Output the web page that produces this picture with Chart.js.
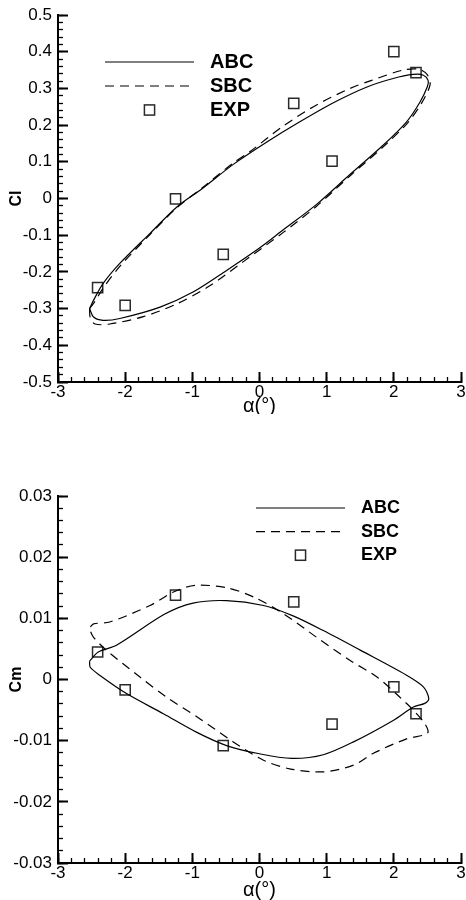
<!DOCTYPE html>
<html>
<head>
<meta charset="utf-8">
<script src="https://cdn.jsdelivr.net/npm/chart.js@4.4.1/dist/chart.umd.min.js"></script>
<style>
    body { margin: 0; background: #fff; }
    #lienzos { position: relative; width: 466px; height: 900px; }
    #lienzos canvas { position: absolute; left: 0; }
    #graficaCl { top: 0; }
    #graficaCm { top: 450px; }
</style>
</head>
<body>
<div id="lienzos">
    <canvas id="graficaCl" width="466" height="414"></canvas>
    <canvas id="graficaCm" width="466" height="450"></canvas>
</div>
<script>
// Rangos y pasos de los ejes
const rangoAlfa = [-3, 3];
const pasosAlfa = [1, 0.2];          // principal, menor
const rangoCl = [-0.5, 0.5];
const pasosCl = [0.1, 0.02];
const rangoCm = [-0.03, 0.03];
const pasosCm = [0.01, 0.002];

// Ciclo de Cl (ABC, linea continua)
const alfaAbcCl = [-2.53, -2.47, -2.33, -2.08, -1.63, -1.23, -0.86, -0.39, 0.11, 0.60,
                   1.10, 1.60, 1.99, 2.29, 2.44, 2.51, 2.50, 2.39, 2.19, 1.84,
                   1.35, 0.85, 0.35, 0.00, -0.49, -0.99, -1.48, -2.08, -2.33, -2.47, -2.53];
const clAbc = [-0.300, -0.277, -0.232, -0.177, -0.095, -0.023, 0.026, 0.093, 0.154, 0.209,
               0.261, 0.304, 0.327, 0.338, 0.336, 0.322, 0.305, 0.263, 0.209, 0.145,
               0.066, -0.016, -0.086, -0.135, -0.196, -0.255, -0.296, -0.327, -0.332, -0.323, -0.300];

// Ciclo de Cl (SBC, discontinua)
const alfaSbcCl = [-2.53, -2.46, -2.33, -2.08, -1.63, -1.23, -0.86, -0.39, -0.14, 0.35,
                   0.85, 1.35, 1.67, 2.14, 2.38, 2.50, 2.54, 2.42, 2.21, 1.85,
                   1.35, 0.85, 0.35, -0.24, -0.74, -1.23, -1.73, -2.23, -2.45, -2.52, -2.53];
const clSbc = [-0.300, -0.283, -0.245, -0.185, -0.098, -0.025, 0.028, 0.097, 0.128, 0.197,
               0.255, 0.300, 0.322, 0.350, 0.352, 0.337, 0.310, 0.262, 0.207, 0.142,
               0.062, -0.021, -0.093, -0.172, -0.238, -0.287, -0.322, -0.342, -0.342, -0.325, -0.300];

// Ciclo de Cm (ABC)
const alfaAbcCm = [-2.53, -2.40, -2.13, -1.41, -0.99, -0.49, 0.06, 0.50, 0.95, 1.50,
                   2.19, 2.44, 2.52, 2.46, 2.29, 1.99, 1.40, 0.95, 0.48, -0.02,
                   -0.49, -0.94, -1.43, -1.98, -2.38, -2.52, -2.53];
const cmAbc = [0.0030, 0.0045, 0.0056, 0.0107, 0.0125, 0.0129, 0.0121, 0.0104, 0.0080, 0.0048,
               0.0007, -0.0012, -0.0031, -0.0039, -0.0045, -0.0067, -0.0102, -0.0123, -0.0129, -0.0121,
               -0.0108, -0.0086, -0.0056, -0.0023, 0.0007, 0.0020, 0.0030];

// Ciclo de Cm (SBC)
const alfaSbcCm = [-2.52, -2.47, -2.23, -1.63, -1.28, -0.96, -0.49, -0.09, 0.35, 0.85,
                   1.35, 1.75, 2.09, 2.29, 2.46, 2.51, 2.44, 2.19, 1.69, 1.40,
                   0.95, 0.45, 0.06, -0.39, -0.89, -1.38, -1.78, -2.28, -2.47, -2.52, -2.52];
const cmSbc = [0.0086, 0.0091, 0.0094, 0.0121, 0.0143, 0.0154, 0.0150, 0.0135, 0.0108, 0.0069,
               0.0031, 0.0004, -0.0029, -0.0050, -0.0072, -0.0086, -0.0091, -0.0097, -0.0121, -0.0140,
               -0.0151, -0.0146, -0.0132, -0.0102, -0.0064, -0.0029, 0.0004, 0.0048, 0.0069, 0.0080, 0.0086];

// Puntos experimentales
const alfaExp = [-2.41, -2.00, -1.25, -0.54, 0.51, 1.08, 2.00, 2.33];
const clExp = [-0.243, -0.291, -0.001, -0.152, 0.259, 0.102, 0.400, 0.343];
const cmExp = [0.0045, -0.0017, 0.0138, -0.0108, 0.0127, -0.0073, -0.0012, -0.0056];

const FUENTE = "'Liberation Sans', Arial, Helvetica, sans-serif";
Chart.defaults.font.family = FUENTE;
Chart.defaults.color = '#000';

const aPuntos = (xs, ys) => xs.map((x, i) => ({ x: x, y: ys[i] }));

// Leyenda dibujada dentro del area de la grafica (linea + texto en negrita)
const leyendaInterna = {
    id: 'leyendaInterna',
    afterDatasetsDraw(chart, args, opts) {
        const { ctx, chartArea } = chart;
        const x0 = chartArea.left + opts.x0;
        const x1 = chartArea.left + opts.x1;
        ctx.save();
        ctx.font = `bold ${opts.tamano}px ${FUENTE}`;
        ctx.textBaseline = 'middle';
        ctx.textAlign = 'left';
        chart.data.datasets.forEach((ds, i) => {
            const y = chartArea.top + opts.y + i * opts.paso;
            ctx.strokeStyle = ds.borderColor;
            ctx.lineWidth = ds.borderWidth;
            if (ds.showLine) {
                ctx.setLineDash(ds.borderDash || []);
                ctx.beginPath();
                ctx.moveTo(x0, y);
                ctx.lineTo(x1, y);
                ctx.stroke();
            } else {
                const lado = ds.pointRadius * Math.SQRT2;
                ctx.setLineDash([]);
                ctx.strokeRect((x0 + x1) / 2 - lado / 2, y - lado / 2, lado, lado);
            }
            ctx.fillStyle = '#000';
            ctx.fillText(ds.label, chartArea.left + opts.xTexto, y);
        });
        ctx.restore();
    }
};

function seriesCiclo(alfaA, valA, alfaS, valS, valExp) {
    return [
        {
            label: 'ABC', data: aPuntos(alfaA, valA), showLine: true,
            borderColor: '#000', borderWidth: 1.2, pointRadius: 0, tension: 0.3, fill: false
        },
        {
            label: 'SBC', data: aPuntos(alfaS, valS), showLine: true,
            borderColor: '#000', borderWidth: 1.2, borderDash: [9, 6], pointRadius: 0, tension: 0.3, fill: false
        },
        {
            label: 'EXP', data: aPuntos(alfaExp, valExp), showLine: false,
            pointStyle: 'rect', pointRadius: 7.2, borderColor: '#2a2a2a', borderWidth: 1.5,
            pointBorderColor: '#2a2a2a', pointBorderWidth: 1.5, pointBackgroundColor: 'rgba(0,0,0,0)'
        }
    ];
}

// Ejes estilo Tecplot: marcas hacia dentro, principales y menores
function configEjes(rangoY, pasosY, tituloY, altoEjeX, ajusteTituloX) {
    const anchoFijo = (w) => (s) => { s.width = w; s.paddingTop = 0; s.paddingBottom = 0; };
    const altoFijo = (h) => (s) => { s.height = h; s.paddingLeft = 0; s.paddingRight = 0; };
    const marcas = (largo, grosor) => ({
        drawOnChartArea: false, tickLength: -largo, tickWidth: grosor, tickColor: '#000'
    });
    return {
        x: {
            type: 'linear', position: 'bottom', weight: 1,
            min: rangoAlfa[0], max: rangoAlfa[1],
            ticks: { stepSize: pasosAlfa[0], autoSkip: false, maxRotation: 0, padding: 10, font: { size: 17 } },
            grid: marcas(10, 2),
            border: { color: '#000', width: 2 },
            title: {
                display: true, text: 'α(°)',
                font: { size: 20, lineHeight: 1 },
                padding: { top: 0, bottom: ajusteTituloX }
            },
            afterFit: altoFijo(altoEjeX)
        },
        xMenor: {
            type: 'linear', position: 'bottom', weight: 0,
            min: rangoAlfa[0], max: rangoAlfa[1],
            ticks: { stepSize: pasosAlfa[1], display: false },
            grid: marcas(5, 1.3),
            border: { display: false },
            afterFit: altoFijo(0)
        },
        y: {
            type: 'linear', position: 'left', weight: 1,
            min: rangoY[0], max: rangoY[1],
            ticks: { stepSize: pasosY[0], autoSkip: false, padding: 16, font: { size: 17 } },
            grid: marcas(10, 2),
            border: { color: '#000', width: 2 },
            title: {
                display: true, text: tituloY,
                font: { size: 16, weight: 'bold', lineHeight: 1 },
                padding: { top: 9, bottom: 0 }
            },
            afterFit: anchoFijo(58)
        },
        yMenor: {
            type: 'linear', position: 'left', weight: 0,
            min: rangoY[0], max: rangoY[1],
            ticks: { stepSize: pasosY[1], display: false },
            grid: marcas(5, 1.3),
            border: { display: false },
            afterFit: anchoFijo(0)
        }
    };
}

function opcionesBase(escalas, relleno, leyenda) {
    return {
        responsive: false,
        animation: false,
        // sin relleno automatico por el tamano de los marcadores
        layout: { padding: relleno, autoPadding: false },
        scales: escalas,
        plugins: {
            legend: { display: false },
            tooltip: { enabled: false },
            leyendaInterna: leyenda
        }
    };
}

// 1. Coeficiente de sustentacion
new Chart(document.getElementById('graficaCl').getContext('2d'), {
    type: 'scatter',
    data: { datasets: seriesCiclo(alfaAbcCl, clAbc, alfaSbcCl, clSbc, clExp) },
    options: opcionesBase(
        configEjes(rangoCl, pasosCl, 'Cl', 32, -2),
        { top: 15, right: 5, bottom: 0, left: 0 },
        { x0: 47, x1: 136, xTexto: 152, y: 47, paso: 24, tamano: 20 }
    ),
    plugins: [leyendaInterna]
});

// 2. Coeficiente de momento
new Chart(document.getElementById('graficaCm').getContext('2d'), {
    type: 'scatter',
    data: { datasets: seriesCiclo(alfaAbcCm, cmAbc, alfaSbcCm, cmSbc, cmExp) },
    options: opcionesBase(
        configEjes(rangoCm, pasosCm, 'Cm', 37, 0),
        { top: 46, right: 5, bottom: 0, left: 0 },
        { x0: 198, x1: 287, xTexto: 303, y: 12, paso: 23.6, tamano: 18 }
    ),
    plugins: [leyendaInterna]
});
</script>
</body>
</html>
